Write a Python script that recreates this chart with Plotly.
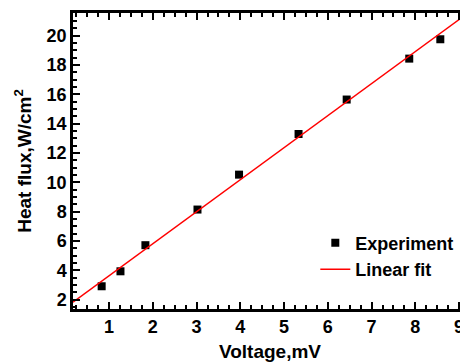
import plotly.graph_objects as go

voltage = [0.83, 1.26, 1.83, 3.02, 3.97, 5.33, 6.43, 7.86, 8.57]
heat_flux = [2.92, 3.94, 5.72, 8.15, 10.53, 13.30, 15.65, 18.44, 19.76]
fit_x = [0.175, 9.18]
fit_y = [1.83, 21.5]
x_ticks = [1, 2, 3, 4, 5, 6, 7, 8, 9]
y_ticks = [2, 4, 6, 8, 10, 12, 14, 16, 18, 20]

font_family = "Liberation Sans, Arial, sans-serif"

fig = go.Figure()
fig.add_trace(go.Scatter(
    x=voltage, y=heat_flux, mode="markers", name="<b>Experiment</b>",
    marker=dict(symbol="square", size=8, color="black"),
))
fig.add_trace(go.Scatter(
    x=fit_x, y=fit_y, mode="lines", name="<b>Linear fit</b>",
    line=dict(color="red", width=1.5),
))

axis_common = dict(
    showline=True, linecolor="black", linewidth=2.5, mirror="ticks",
    ticks="inside", ticklen=7, tickwidth=2, tickcolor="black",
    showgrid=False, zeroline=False, automargin=False,
    tickfont=dict(family=font_family, size=18, color="black"),
)

fig.update_xaxes(
    range=[0.175, 9.18], tickvals=x_ticks, ticktext=[f"<b>{v}</b>" for v in x_ticks],
    minor=dict(ticks="inside", ticklen=4, tickwidth=1.5, tickcolor="black", dtick=0.25, tick0=0),
    title=dict(text="<b>Voltage,mV</b>", font=dict(family=font_family, size=19, color="black"), standoff=14),
    **axis_common,
)
fig.update_yaxes(
    range=[1.37, 21.55], tickvals=y_ticks, ticktext=[f"<b>{v}</b>" for v in y_ticks],
    minor=dict(ticks="inside", ticklen=4, tickwidth=1.5, tickcolor="black", dtick=0.5, tick0=0),
    title=dict(text="<b>Heat flux,W/cm<sup>2</sup></b>", font=dict(family=font_family, size=19, color="black"), standoff=10),
    **axis_common,
)

# page body has an 8px default margin, so the figure is sized to fit the window
fig.update_layout(
    width=460, height=354,
    margin=dict(l=65, r=1, t=5, b=53, autoexpand=False),
    paper_bgcolor="white", plot_bgcolor="white",
    showlegend=True,
    legend=dict(
        x=0.615, y=0.285, xanchor="left", yanchor="top",
        font=dict(family=font_family, size=18, color="black"),
        bgcolor="rgba(0,0,0,0)", tracegroupgap=0,
    ),
)

fig.write_html("out.html")
